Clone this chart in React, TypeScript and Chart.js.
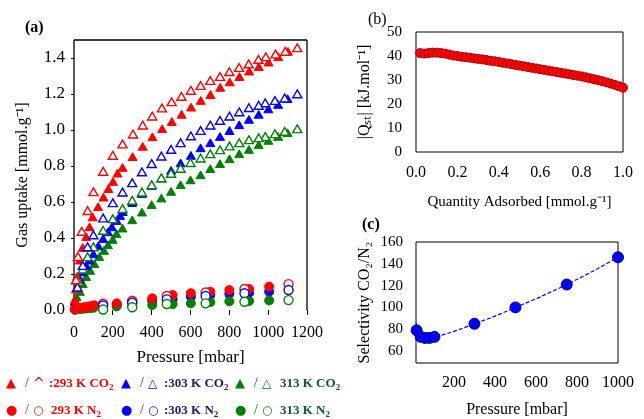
import React, { useEffect, useRef } from 'react';
import { Chart, registerables } from 'chart.js';

Chart.register(...registerables);

const FONT = "'Liberation Serif', 'Times New Roman', Times, serif";
type Pt = [number, number];

// ---------- Panel (a): gas uptake [mmol/g] vs pressure [mbar] ----------
const CO2_293_ADS: Pt[] = [[5,0.05],[10,0.11],[16,0.18],[30,0.27],[45,0.34],[63,0.40],[80,0.455],[96,0.51],[124,0.567],[152,0.62],[177,0.667],[201,0.707],[224,0.753],[250,0.785],[302,0.845],[354,0.902],[404,0.955],[454,1.0],[504,1.04],[554,1.08],[603,1.12],[653,1.157],[703,1.19],[753,1.23],[802,1.26],[852,1.29],[902,1.32],[952,1.345],[1002,1.37],[1052,1.40],[1102,1.43]];
const CO2_293_DES: Pt[] = [[1150,1.45],[1088,1.43],[1038,1.415],[988,1.40],[950,1.385],[900,1.36],[850,1.34],[800,1.317],[752,1.29],[702,1.268],[652,1.24],[602,1.213],[553,1.18],[503,1.15],[453,1.115],[403,1.07],[354,1.02],[304,0.97],[250,0.915],[200,0.852],[150,0.763],[100,0.65],[70,0.545],[40,0.43],[20,0.29],[10,0.16]];
const CO2_303_ADS: Pt[] = [[5,0.04],[15,0.12],[30,0.167],[45,0.205],[63,0.24],[80,0.27],[100,0.305],[125,0.35],[150,0.39],[175,0.427],[195,0.455],[220,0.49],[237,0.518],[251,0.54],[300,0.59],[350,0.64],[400,0.685],[450,0.726],[500,0.769],[549,0.81],[602,0.852],[652,0.894],[702,0.922],[752,0.957],[801,0.99],[851,1.022],[901,1.052],[951,1.08],[1001,1.11],[1051,1.135],[1100,1.167]];
const CO2_303_DES: Pt[] = [[1150,1.194],[1085,1.17],[1035,1.157],[985,1.144],[951,1.13],[901,1.117],[851,1.094],[801,1.07],[752,1.046],[702,1.02],[652,0.99],[602,0.96],[549,0.922],[500,0.885],[450,0.848],[400,0.806],[350,0.76],[300,0.70],[250,0.648],[200,0.589],[150,0.504],[100,0.41],[70,0.344],[45,0.24],[18,0.12]];
const CO2_313_ADS: Pt[] = [[8,0.04],[13,0.067],[30,0.096],[45,0.139],[63,0.178],[83,0.213],[105,0.25],[130,0.289],[154,0.324],[175,0.355],[199,0.385],[219,0.417],[250,0.448],[300,0.494],[350,0.537],[400,0.578],[450,0.615],[500,0.652],[549,0.689],[600,0.716],[652,0.744],[702,0.778],[752,0.806],[801,0.833],[851,0.861],[901,0.885],[951,0.911],[1001,0.935],[1051,0.957],[1100,0.978]];
const CO2_313_DES: Pt[] = [[1150,1.0],[1085,0.985],[1035,0.972],[985,0.957],[951,0.95],[901,0.939],[851,0.922],[801,0.904],[752,0.883],[702,0.861],[652,0.837],[600,0.812],[549,0.78],[500,0.752],[450,0.727],[400,0.689],[350,0.648],[300,0.602],[250,0.556],[200,0.5],[150,0.435],[100,0.344],[70,0.289],[45,0.22],[25,0.15]];
const N2_293_ADS: Pt[] = [[3,0.004],[8,0.006],[14,0.008],[20,0.01],[27,0.011],[35,0.012],[43,0.013],[52,0.015],[62,0.016],[72,0.018],[83,0.02],[95,0.022],[105,0.026],[150,0.03],[220,0.037],[300,0.052],[403,0.065],[508,0.083],[602,0.093],[702,0.102],[800,0.111],[902,0.117],[1005,0.13]];
const N2_293_DES: Pt[] = [[1105,0.144],[878,0.117],[678,0.097],[478,0.078],[300,0.05],[150,0.035]];
const N2_303_ADS: Pt[] = [[5,0.003],[15,0.006],[30,0.008],[50,0.01],[70,0.012],[95,0.015],[150,0.022],[220,0.03],[300,0.042],[403,0.05],[508,0.06],[602,0.074],[702,0.083],[800,0.09],[902,0.095],[1005,0.102]];
const N2_303_DES: Pt[] = [[1105,0.111],[878,0.093],[678,0.078],[478,0.059],[300,0.04],[150,0.025]];
const N2_313_ADS: Pt[] = [[5,0.002],[20,0.004],[40,0.006],[60,0.008],[80,0.01],[100,0.012],[150,0.015],[220,0.02],[300,0.022],[403,0.028],[508,0.033],[602,0.037],[702,0.044],[800,0.048],[902,0.05],[1005,0.053]];
const N2_313_DES: Pt[] = [[1105,0.055],[878,0.046],[678,0.037],[478,0.033],[300,0.015],[150,0.003]];

// ---------- Panel (b): isosteric heat vs quantity adsorbed ----------
const QST_Q: number[] = [0.02,0.04,0.06,0.08,0.10,0.12,0.14,0.16,0.18,0.20,0.22,0.24,0.26,0.28,0.30,0.32,0.34,0.36,0.38,0.40,0.42,0.44,0.46,0.48,0.50,0.52,0.54,0.56,0.58,0.60,0.62,0.64,0.66,0.68,0.70,0.72,0.74,0.76,0.78,0.80,0.82,0.84,0.86,0.88,0.90,0.92,0.94,0.96,0.98,1.00];
const QST_H: number[] = [41.2,41.0,41.2,41.4,41.4,41.2,41.0,40.6,40.2,40.0,39.7,39.5,39.3,39.0,38.8,38.6,38.3,38.0,37.8,37.5,37.2,36.9,36.6,36.3,36.0,35.7,35.4,35.1,34.8,34.5,34.2,33.9,33.6,33.3,33.0,32.7,32.4,32.1,31.8,31.5,31.1,30.7,30.3,29.9,29.5,29.0,28.5,28.0,27.4,26.8];

// ---------- Panel (c): selectivity CO2/N2 vs pressure ----------
const SEL_P: number[] = [18, 38, 58, 80, 105, 300, 500, 750, 1000];
const SEL_V: number[] = [79, 73, 72, 72, 73, 85, 100, 121, 146];
const SEL_FIT_P: number[] = [15, 25, 40, 60, 80, 105, 200, 300, 400, 500, 625, 750, 875, 1000];
const SEL_FIT_V: number[] = [86, 77, 73.5, 72.5, 72.5, 73, 78, 85, 92, 100, 110, 121, 133, 146];
const SEL_X_TICKS: number[] = [200, 400, 600, 800, 1000];
const SEL_Y_TICKS: number[] = [60, 80, 100, 120, 140, 160];

const RED = '#FF0000';
const BLUE = '#0000FF';
const GREEN = '#008000';

const toXY = (a: Pt[]) => a.map(([x, y]) => ({ x, y }));
const zipXY = (xs: number[], ys: number[]) => xs.map((x, i) => ({ x, y: ys[i] }));

const boxPlugin = {
  id: 'box',
  beforeDatasetsDraw(chart: any, _args: any, opts: any) {
    const { ctx, chartArea } = chart;
    const { left, top, right, bottom } = chartArea;
    ctx.save();
    ctx.strokeStyle = opts.color || '#000';
    ctx.lineWidth = opts.width || 1;
    ctx.beginPath();
    if (opts.top) { ctx.moveTo(left, top); ctx.lineTo(right, top); }
    if (opts.right) { ctx.moveTo(right, top); ctx.lineTo(right, bottom); }
    if (opts.bottom) { ctx.moveTo(left, bottom); ctx.lineTo(right, bottom); }
    if (opts.left) { ctx.moveTo(left, top); ctx.lineTo(left, bottom); }
    ctx.stroke();
    ctx.restore();
  },
};

const marker = (data: Pt[], color: string, style: string, open: boolean, r: number) => ({
  data: toXY(data),
  pointStyle: style,
  pointRadius: r,
  pointHoverRadius: r,
  backgroundColor: open ? '#FFFFFF' : color,
  borderColor: color,
  borderWidth: open ? 1.4 : 1,
  showLine: false,
  clip: false,
});

const tickFont = (size: number) => ({ family: FONT, size });
const plain = (v: any) => String(v);

function configA(): any {
  return {
    type: 'scatter',
    data: {
      datasets: [
        marker(N2_313_DES, GREEN, 'circle', true, 4.5),
        marker(N2_303_DES, BLUE, 'circle', true, 4.5),
        marker(N2_293_DES, RED, 'circle', true, 4.5),
        marker(CO2_293_DES, RED, 'triangle', true, 5.2),
        marker(CO2_303_DES, BLUE, 'triangle', true, 5.2),
        marker(CO2_313_DES, GREEN, 'triangle', true, 5.2),
        marker(N2_293_ADS, RED, 'circle', false, 4.5),
        marker(N2_313_ADS, GREEN, 'circle', false, 4.5),
        marker(N2_303_ADS, BLUE, 'circle', false, 4.5),
        marker(CO2_293_ADS, RED, 'triangle', false, 5.2),
        marker(CO2_303_ADS, BLUE, 'triangle', false, 5.2),
        marker(CO2_313_ADS, GREEN, 'triangle', false, 5.2),
      ],
    },
    options: {
      responsive: false,
      animation: false,
      events: [],
      layout: { padding: { left: 0, top: 40, right: 16, bottom: 0 } },
      plugins: {
        legend: { display: false },
        tooltip: { enabled: false },
        box: { top: true, left: true, right: true, bottom: false, width: 1.3 },
      },
      scales: {
        x: {
          type: 'linear', min: 0, max: 1200,
          afterFit: (s: any) => { s.height = 58; },
          ticks: { stepSize: 200, font: tickFont(16), color: '#000', padding: 8, maxRotation: 0, autoSkip: false, callback: plain },
          grid: { drawOnChartArea: false, drawTicks: true, tickLength: 5, color: '#000' },
          border: { display: false },
          title: { display: true, text: 'Pressure [mbar]', color: '#000', font: { family: FONT, size: 17 }, padding: { top: 0, bottom: 0 } },
        },
        y: {
          type: 'linear', min: 0, max: 1.5,
          afterFit: (s: any) => { s.width = 74; },
          ticks: { stepSize: 0.2, includeBounds: false, font: tickFont(17), color: '#000', padding: 6, callback: (v: any) => Number(v).toFixed(1) },
          grid: { drawOnChartArea: false, drawTicks: true, tickLength: 3, color: '#000' },
          border: { display: false },
          title: { display: true, text: 'Gas uptake [mmol.g⁻¹]', color: '#000', font: { family: FONT, size: 16 }, padding: { top: 13, bottom: 0 } },
        },
      },
    },
    plugins: [boxPlugin],
  };
}

function configB(): any {
  return {
    type: 'scatter',
    data: {
      datasets: [{
        data: zipXY(QST_Q, QST_H),
        pointStyle: 'circle', pointRadius: 4.5, pointHoverRadius: 4.5,
        backgroundColor: RED, borderColor: '#990000', borderWidth: 1,
        showLine: false, clip: false,
      }],
    },
    options: {
      responsive: false,
      animation: false,
      events: [],
      layout: { padding: { left: 0, top: 32, right: 17, bottom: 0 } },
      plugins: {
        legend: { display: false },
        tooltip: { enabled: false },
        box: { top: true, left: true, right: true, bottom: true, width: 1 },
      },
      scales: {
        x: {
          type: 'linear', min: 0, max: 1,
          afterFit: (s: any) => { s.height = 63; },
          ticks: { stepSize: 0.2, font: tickFont(16), color: '#000', padding: 11, maxRotation: 0, autoSkip: false, callback: (v: any) => Number(v).toFixed(1) },
          grid: { display: false, drawTicks: false },
          border: { display: false },
          title: { display: true, text: 'Quantity Adsorbed [mmol.g⁻¹]', color: '#000', font: { family: FONT, size: 15 }, padding: { top: 0, bottom: 4 } },
        },
        y: {
          type: 'linear', min: 0, max: 50,
          afterFit: (s: any) => { s.width = 76; },
          ticks: { stepSize: 10, font: tickFont(15), color: '#000', padding: 14 },
          grid: { display: false, drawTicks: false },
          border: { display: false },
          title: { display: true, text: '|Qₛₜ| [kJ.mol⁻¹]', color: '#000', font: { family: FONT, size: 16 }, padding: { top: 15, bottom: 0 } },
        },
      },
    },
    plugins: [boxPlugin],
  };
}

function configC(): any {
  return {
    type: 'scatter',
    data: {
      datasets: [
        {
          data: zipXY(SEL_P, SEL_V),
          pointStyle: 'circle', pointRadius: 5.5, pointHoverRadius: 5.5,
          backgroundColor: BLUE, borderColor: '#00008B', borderWidth: 1,
          showLine: false, clip: false,
        },
        {
          data: zipXY(SEL_FIT_P, SEL_FIT_V),
          showLine: true, pointRadius: 0, borderColor: BLUE, borderWidth: 1.2,
          borderDash: [4, 2], cubicInterpolationMode: 'monotone', fill: false,
        },
      ],
    },
    options: {
      responsive: false,
      animation: false,
      events: [],
      layout: { padding: { left: 0, top: 27, right: 17, bottom: 0 } },
      plugins: {
        legend: { display: false },
        tooltip: { enabled: false },
        box: { top: true, left: true, right: true, bottom: true, width: 1 },
      },
      scales: {
        x: {
          type: 'linear', min: 15, max: 1000,
          afterFit: (s: any) => { s.height = 56; },
          afterBuildTicks: (s: any) => { s.ticks = SEL_X_TICKS.map((v) => ({ value: v })); },
          ticks: { font: tickFont(16), color: '#000', padding: 10, maxRotation: 0, autoSkip: false, callback: plain },
          grid: { display: false, drawTicks: false },
          border: { display: false },
          title: { display: true, text: 'Pressure [mbar]', color: '#000', font: { family: FONT, size: 16 }, padding: { top: 0, bottom: 0 } },
        },
        y: {
          type: 'linear', min: 49, max: 160,
          afterFit: (s: any) => { s.width = 76; },
          afterBuildTicks: (s: any) => { s.ticks = SEL_Y_TICKS.map((v) => ({ value: v })); },
          ticks: { font: tickFont(15), color: '#000', padding: 13, callback: plain },
          grid: { display: false, drawTicks: false },
          border: { display: false },
          title: { display: true, text: 'Selectivity CO₂/N₂', color: '#000', font: { family: FONT, size: 16 }, padding: { top: 15, bottom: 0 } },
        },
      },
    },
    plugins: [boxPlugin],
  };
}

function ChartCanvas(props: { make: () => any; left: number; top: number; width: number; height: number }) {
  const ref = useRef<HTMLCanvasElement | null>(null);
  useEffect(() => {
    const chart = new Chart(ref.current as HTMLCanvasElement, props.make());
    return () => chart.destroy();
  }, []);
  return (
    <canvas
      ref={ref}
      width={props.width}
      height={props.height}
      style={{ position: 'absolute', left: props.left, top: props.top, width: props.width, height: props.height, display: 'block' }}
    />
  );
}

const LEGEND_ITEMS = [
  { x: 6, y: 383, fill: '▲', open: '^', sym: RED, slash: RED, text: RED, label: ':293 K CO', sub: '2' },
  { x: 121, y: 383, fill: '▲', open: '△', sym: BLUE, slash: '#333377', text: '#1A1A66', label: ':303 K CO', sub: '2' },
  { x: 235, y: 383, fill: '▲', open: '△', sym: GREEN, slash: GREEN, text: '#0B5A2A', label: '313 K CO', sub: '2' },
  { x: 6, y: 410, fill: '●', open: '○', sym: RED, slash: RED, text: RED, label: '293 K N', sub: '2' },
  { x: 121, y: 410, fill: '●', open: '○', sym: BLUE, slash: '#333377', text: '#1A1A66', label: ':303 K N', sub: '2' },
  { x: 235, y: 410, fill: '●', open: '○', sym: GREEN, slash: GREEN, text: '#0B5A2A', label: '313 K N', sub: '2' },
];

function Legend() {
  const base: React.CSSProperties = { position: 'absolute', lineHeight: '16px', height: 16, whiteSpace: 'nowrap' };
  return (
    <>
      {LEGEND_ITEMS.map((it, i) => (
        <React.Fragment key={i}>
          <span style={{ ...base, left: it.x, top: it.y - 8, color: it.sym, fontSize: 13, fontFamily: "'DejaVu Sans', sans-serif" }}>{it.fill}</span>
          <span style={{ ...base, left: it.x + 19, top: it.y - 8, color: it.slash, fontSize: 14, fontFamily: FONT }}>/</span>
          <span style={{ ...base, left: it.x + 27, top: it.y - 8, color: it.sym, fontSize: it.open === '^' ? 14 : 12, fontFamily: "'DejaVu Sans', sans-serif" }}>{it.open}</span>
          <span style={{ ...base, left: it.x + (it.label.startsWith(':') ? 43 : 45), top: it.y - 8, color: it.text, fontSize: 13, fontWeight: 'bold', fontFamily: FONT }}>
            {it.label}
            <sub style={{ fontSize: 9, verticalAlign: '-3px', lineHeight: 0 }}>{it.sub}</sub>
          </span>
        </React.Fragment>
      ))}
    </>
  );
}

export default function App() {
  const letter: React.CSSProperties = { position: 'absolute', fontFamily: FONT, fontSize: 16, lineHeight: '18px', color: '#000' };
  return (
    <div style={{ position: 'absolute', left: 0, top: 0, width: 644, height: 419, background: '#fff', overflow: 'hidden' }}>
      <ChartCanvas make={configA} left={0} top={0} width={331} height={368} />
      <ChartCanvas make={configB} left={340} top={0} width={304} height={215} />
      <ChartCanvas make={configC} left={340} top={215} width={304} height={204} />
      <span style={{ ...letter, left: 25, top: 18, fontWeight: 'bold' }}>(a)</span>
      <span style={{ ...letter, left: 368, top: 10 }}>(b)</span>
      <span style={{ ...letter, left: 362, top: 215, fontWeight: 'bold' }}>(c)</span>
      <Legend />
    </div>
  );
}
